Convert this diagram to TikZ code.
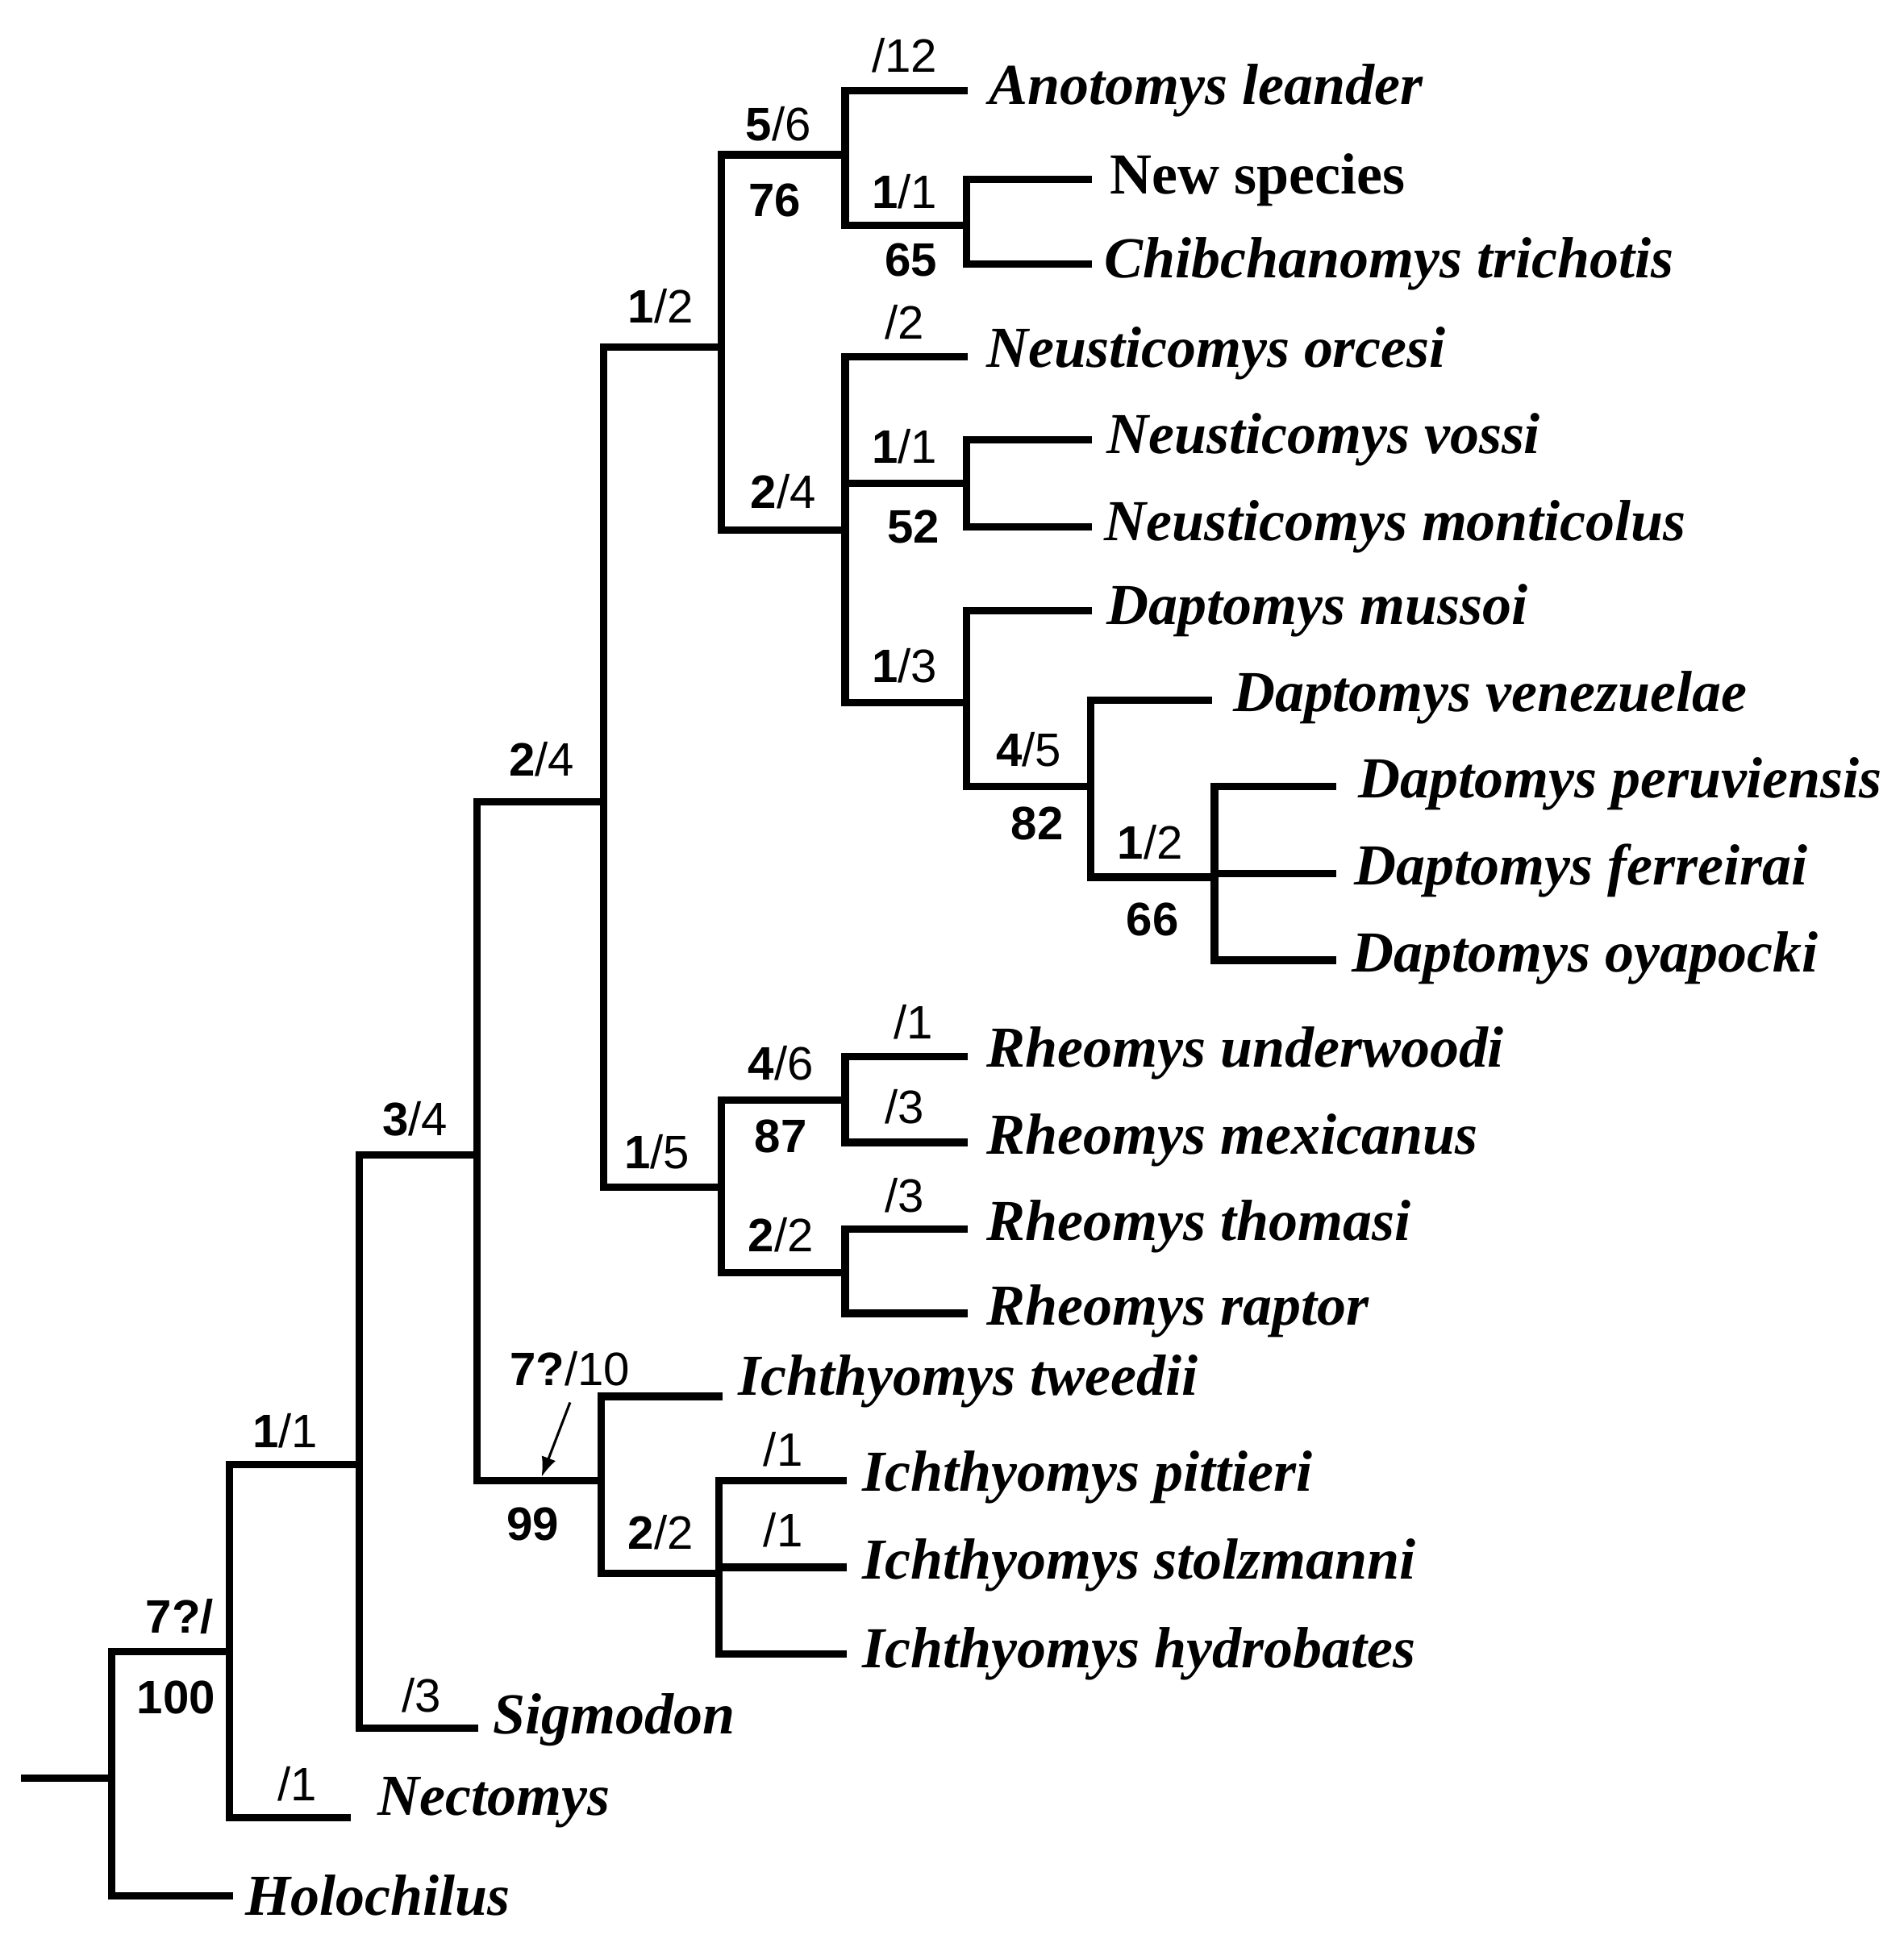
\documentclass[tikz,border=0pt]{standalone}
\usepackage{fontspec}
\usetikzlibrary{arrows.meta}
\setmainfont{Liberation Serif}
\newfontfamily\lab{Liberation Sans}
\begin{document}
\begin{tikzpicture}[x=1bp,y=-1bp,line width=6bp,
  br/.style={line cap=rect,line join=miter},
  tx/.style={anchor=west,inner sep=0pt,font=\fontsize{47}{47}\selectfont\bfseries\itshape},
  lb/.style={inner sep=0pt,font=\lab\fontsize{38}{38}\selectfont}]
\useasboundingbox (0,0) rectangle (1536,1565);
% root
\draw[br] (20,1435) -- (90,1435);
\draw[br] (185,1333) -- (90,1333) -- (90,1530) -- (185,1530);
\draw[br] (290,1182) -- (185,1182) -- (185,1467) -- (280,1467);
\draw[br] (385,932) -- (290,932) -- (290,1395) -- (383,1395);
\draw[br] (487,647) -- (385,647) -- (385,1195) -- (485,1195);
\draw[br] (580,1127) -- (485,1127) -- (485,1270) -- (580,1270);
\draw[br] (680,1195) -- (580,1195) -- (580,1335) -- (680,1335);
\draw[br] (580,1265) -- (680,1265);
\draw[br] (582,280) -- (487,280) -- (487,958) -- (582,958);
\draw[br] (682,888) -- (582,888) -- (582,1027) -- (682,1027);
\draw[br] (778,853) -- (682,853) -- (682,922) -- (778,922);
\draw[br] (778,992) -- (682,992) -- (682,1060) -- (778,1060);
\draw[br] (682,125) -- (582,125) -- (582,428) -- (682,428);
\draw[br] (778,73) -- (682,73) -- (682,182) -- (780,182);
\draw[br] (878,145) -- (780,145) -- (780,213) -- (878,213);
\draw[br] (778,288) -- (682,288) -- (682,567) -- (780,567);
\draw[br] (682,390) -- (780,390);
\draw[br] (878,355) -- (780,355) -- (780,425) -- (878,425);
\draw[br] (878,493) -- (780,493) -- (780,635) -- (880,635);
\draw[br] (975,565) -- (880,565) -- (880,708) -- (980,708);
\draw[br] (1075,635) -- (980,635) -- (980,775) -- (1075,775);
\draw[br] (980,705) -- (1075,705);
% taxa
\node[tx] (t1) at (795,73) {Anotomys leander};
\node[tx,font=\fontsize{47}{47}\selectfont\bfseries] (t2) at (893,145) {New species};
\node[tx] (t3) at (888,213) {Chibchanomys trichotis};
\node[tx] (t4) at (793,285) {Neusticomys orcesi};
\node[tx] (t5) at (890,355) {Neusticomys vossi};
\node[tx] (t6) at (888,425) {Neusticomys monticolus};
\node[tx] (t7) at (890,493) {Daptomys mussoi};
\node[tx] (t8) at (992,563) {Daptomys venezuelae};
\node[tx] (t9) at (1093,633) {Daptomys peruviensis};
\node[tx] (t10) at (1090,703) {Daptomys ferreirai};
\node[tx] (t11) at (1088,773) {Daptomys oyapocki};
\node[tx] (t12) at (793,850) {Rheomys underwoodi};
\node[tx] (t13) at (793,920) {Rheomys mexicanus};
\node[tx] (t14) at (793,990) {Rheomys thomasi};
\node[tx] (t15) at (793,1058) {Rheomys raptor};
\node[tx] (t16) at (593,1115) {Ichthyomys tweedii};
\node[tx] (t17) at (693,1192) {Ichthyomys pittieri};
\node[tx] (t18) at (693,1263) {Ichthyomys stolzmanni};
\node[tx] (t19) at (693,1335) {Ichthyomys hydrobates};
\node[tx] (t20) at (395,1388) {Sigmodon};
\node[tx] (t21) at (302,1455) {Nectomys};
\node[tx] (t22) at (195,1530) {Holochilus};
% labels
\node[lb] (a1) at (730,45) {/12};
\node[lb] (a2) at (628,100) {\textbf{5}/6};
\node[lb] (a3) at (625,162) {\textbf{76}};
\node[lb] (a4) at (730,155) {\textbf{1}/1};
\node[lb] (a5) at (735,210) {\textbf{65}};
\node[lb] (a6) at (533,247) {\textbf{1}/2};
\node[lb] (a7) at (730,260) {/2};
\node[lb] (a8) at (730,360) {\textbf{1}/1};
\node[lb] (a9) at (737,425) {\textbf{52}};
\node[lb] (a10) at (632,397) {\textbf{2}/4};
\node[lb] (a11) at (730,537) {\textbf{1}/3};
\node[lb] (a12) at (830,605) {\textbf{4}/5};
\node[lb] (a13) at (837,665) {\textbf{82}};
\node[lb] (a14) at (928,680) {\textbf{1}/2};
\node[lb] (a15) at (930,742) {\textbf{66}};
\node[lb] (a16) at (437,613) {\textbf{2}/4};
\node[lb] (a17) at (737,825) {/1};
\node[lb] (a18) at (630,858) {\textbf{4}/6};
\node[lb] (a19) at (630,917) {\textbf{87}};
\node[lb] (a20) at (730,893) {/3};
\node[lb] (a21) at (530,930) {\textbf{1}/5};
\node[lb] (a22) at (730,965) {/3};
\node[lb] (a23) at (630,997) {\textbf{2}/2};
\node[lb] (a24) at (335,903) {\textbf{3}/4};
\node[lb] (a25) at (460,1105) {\textbf{7?}/10};
\node[lb] (a26) at (430,1230) {\textbf{99}};
\node[lb] (a27) at (533,1237) {\textbf{2}/2};
\node[lb] (a28) at (632,1170) {/1};
\node[lb] (a29) at (632,1235) {/1};
\node[lb] (a30) at (230,1155) {\textbf{1}/1};
\node[lb] (a31) at (340,1368) {/3};
\node[lb] (a32) at (145,1305) {\textbf{7?/}};
\node[lb] (a33) at (142,1370) {\textbf{100}};
\node[lb] (a34) at (240,1440) {/1};
\coordinate (p) at (437,1192);
\draw[line width=2bp,-{Latex[length=16bp,width=12bp]}] (a25.south) ++(0,10) -- (p);
\end{tikzpicture}
\end{document}
